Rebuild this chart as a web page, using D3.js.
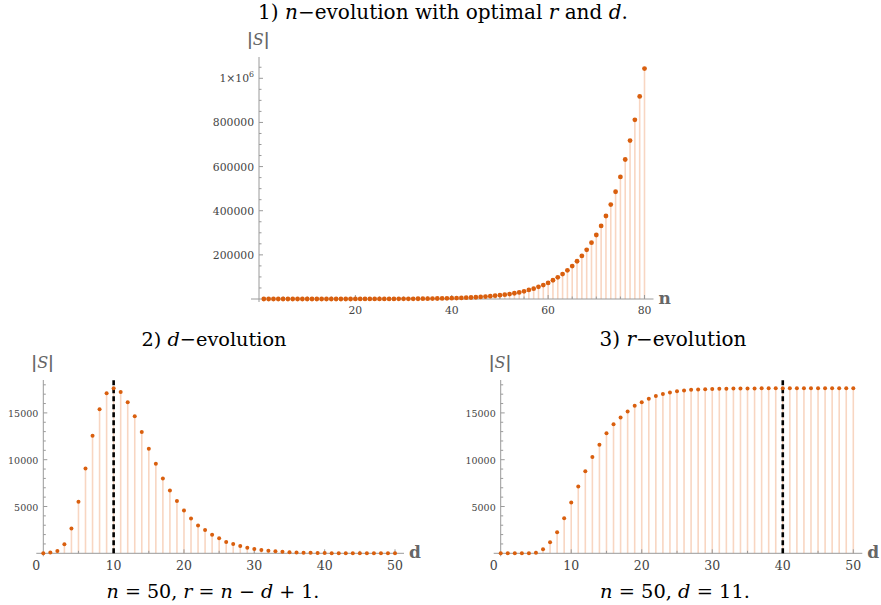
<!DOCTYPE html>
<html>
<head>
<meta charset="utf-8">
<script src="https://cdn.jsdelivr.net/npm/d3@7"></script>
<style>
body { margin: 0; background: #fff; }
text { font-family: "DejaVu Serif", serif; }
</style>
</head>
<body>
<svg id="chart" width="881" height="605"></svg>
<script>
// 1) |S| for n = 1..80 (optimal r and d)
var topSizes = [
  1, 2, 2, 3, 4, 5, 7, 9, 12, 15,
  19, 24, 30, 37, 46, 56, 68, 82, 100, 120,
  145, 175, 210, 250, 300, 355, 420, 500, 590, 700,
  820, 970, 1150, 1350, 1600, 1900, 2200, 2600, 3100, 3600,
  4300, 5000, 5900, 6900, 8000, 9400, 11000, 12800, 15000, 17500,
  19800, 22500, 26000, 30000, 35000, 41000, 47000, 55000, 63000, 73000,
  85000, 98000, 113000, 130000, 149000, 171000, 195000, 223000, 255000, 290000,
  331000, 376000, 428000, 486000, 553000, 632000, 718000, 812000, 918000, 1044000
];
// 2) |S| for d = 0..50, n = 50, r = n - d + 1
var dSizes = [
  0, 90, 250, 960, 2650, 5500, 9050, 12570, 15380, 17090,
  17640, 17240, 16130, 14650, 12950, 11180, 9560, 8000, 6700, 5580,
  4560, 3720, 2980, 2480, 1980, 1600, 1210, 1000, 790, 600,
  470, 360, 280, 210, 160, 120, 90, 65, 50, 36,
  26, 18, 12, 8, 5, 3, 2, 1, 1, 0, 0
];
// 3) |S| for r = 0..50, n = 50, d = 11
var rSizes = [
  0, 0, 0, 0, 0, 70, 430, 1180, 2260, 3740,
  5430, 7140, 8760, 10300, 11610, 12820, 13780, 14520, 15150, 15760,
  16150, 16500, 16810, 17020, 17180, 17320, 17400, 17470, 17510, 17540,
  17560, 17580, 17590, 17600, 17610, 17615, 17620, 17625, 17628, 17630,
  17630, 17630, 17630, 17630, 17630, 17630, 17630, 17630, 17630, 17630, 17630
];
var topTicks = [20, 40, 60, 80];
var topYTicks = [200000, 400000, 600000, 800000, 1000000];
var bottomXTicks = [10, 20, 30, 40, 50];
var bottomYTicks = [5000, 10000, 15000];
var dOptimal = 10;
var rOptimal = 40;

var dotColor = "#d95f0e";
var stemColor = "#f8d6c2";
var axisColor = "#9a9a9a";
var labelColor = "#444";

var svg = d3.select("#chart");

function drawPanel(p) {
  var g = svg.append("g");
  var x = d3.scaleLinear().domain(p.xDomain).range(p.xRange);
  var y = d3.scaleLinear().domain(p.yDomain).range(p.yRange);
  var x0 = x(0), y0 = y(0);

  // stems
  g.selectAll("line.stem")
    .data(p.values)
    .enter().append("line")
    .attr("class", "stem")
    .attr("x1", function(d, i){ return x(i + p.first); })
    .attr("x2", function(d, i){ return x(i + p.first); })
    .attr("y1", y0)
    .attr("y2", function(d){ return y(d); })
    .style("stroke", stemColor)
    .style("stroke-width", 1.6);

  // axes
  g.append("line")
    .attr("x1", x0 - p.xOver).attr("x2", p.xRange[1] + 9)
    .attr("y1", y0).attr("y2", y0)
    .style("stroke", axisColor).style("stroke-width", 1);
  g.append("line")
    .attr("x1", x0).attr("x2", x0)
    .attr("y1", y0 + 3).attr("y2", p.yTop)
    .style("stroke", axisColor).style("stroke-width", 1);

  // minor ticks
  var xs = d3.range(p.xMinor, p.xDomain[1] + 0.001, p.xMinor);
  g.selectAll("line.xt").data(xs).enter().append("line")
    .attr("x1", function(d){ return x(d); }).attr("x2", function(d){ return x(d); })
    .attr("y1", y0).attr("y2", function(d){ return p.xTicks.indexOf(d) >= 0 ? y0 - 4 : y0 - 2.5; })
    .style("stroke", axisColor);
  var ys = d3.range(p.yMinor, y.invert(p.yTop), p.yMinor);
  g.selectAll("line.yt").data(ys).enter().append("line")
    .attr("y1", function(d){ return y(d); }).attr("y2", function(d){ return y(d); })
    .attr("x1", x0).attr("x2", function(d){ return p.yTicks.indexOf(Math.round(d)) >= 0 ? x0 + 4 : x0 + 2.5; })
    .style("stroke", axisColor);

  // tick labels
  g.selectAll("text.xl").data(p.xTicks).enter().append("text")
    .attr("x", function(d){ return x(d); })
    .attr("y", y0 + 4 + p.xTickSize)
    .attr("text-anchor", "middle")
    .style("font-size", p.xTickSize + "px")
    .style("fill", labelColor)
    .text(function(d){ return d; });
  if (p.zeroLabel) {
    g.append("text")
      .attr("x", x0 - 7).attr("y", y0 + 4 + p.xTickSize)
      .attr("text-anchor", "middle")
      .style("font-size", p.xTickSize + "px")
      .style("fill", labelColor)
      .text("0");
  }
  var yl = g.selectAll("text.yl").data(p.yTicks).enter().append("text")
    .attr("x", x0 - 5)
    .attr("y", function(d){ return y(d) + 4; })
    .attr("text-anchor", "end")
    .style("font-size", p.yTickSize + "px")
    .style("fill", labelColor);
  yl.each(function(d){
    var t = d3.select(this);
    if (d >= 1000000) {
      t.append("tspan").text("1\u00d710");
      t.append("tspan").attr("dy", -5).style("font-size", (p.yTickSize - 3) + "px").text("6");
    } else {
      t.text(d);
    }
  });

  // axis names
  var sl = g.append("text")
    .attr("x", x0 - 12).attr("y", p.yTop - 12)
    .style("font-size", "16px").style("fill", "#666").style("font-weight", "bold");
  sl.append("tspan").text("|");
  sl.append("tspan").style("font-style", "italic").style("font-weight", "normal").text("S");
  sl.append("tspan").text("|");
  g.append("text")
    .attr("x", p.xRange[1] + 14).attr("y", y0 + 5)
    .style("font-size", "17px").style("fill", "#666").style("font-weight", "bold")
    .text(p.xName);

  // optimum marker
  if (p.mark != null) {
    g.append("line")
      .attr("x1", x(p.mark)).attr("x2", x(p.mark))
      .attr("y1", y0).attr("y2", p.yTop)
      .style("stroke", "#000").style("stroke-width", 2.6)
      .style("stroke-dasharray", "5,3");
  }

  // points
  g.selectAll("circle")
    .data(p.values)
    .enter().append("circle")
    .attr("cx", function(d, i){ return x(i + p.first); })
    .attr("cy", function(d){ return y(d); })
    .attr("r", p.r)
    .style("fill", dotColor);
}

drawPanel({
  values: topSizes, first: 1,
  xDomain: [0, 80], xRange: [259, 644.5],
  yDomain: [0, 1000000], yRange: [299, 78.3], yTop: 57,
  xTicks: topTicks, yTicks: topYTicks, xMinor: 5, yMinor: 50000,
  xOver: 8, xTickSize: 10.8, yTickSize: 10.8, zeroLabel: false, xName: "n", r: 2.4, mark: null
});
drawPanel({
  values: dSizes, first: 0,
  xDomain: [0, 50], xRange: [43.3, 395],
  yDomain: [0, 5000], yRange: [553.3, 506.5], yTop: 380,
  xTicks: bottomXTicks, yTicks: bottomYTicks, xMinor: 5, yMinor: 1000,
  xOver: 7, xTickSize: 12.5, yTickSize: 9.5, zeroLabel: true, xName: "d", r: 2, mark: dOptimal
});
drawPanel({
  values: rSizes, first: 0,
  xDomain: [0, 50], xRange: [500.7, 853.3],
  yDomain: [0, 5000], yRange: [553.3, 506.5], yTop: 380,
  xTicks: bottomXTicks, yTicks: bottomYTicks, xMinor: 5, yMinor: 1000,
  xOver: 7, xTickSize: 12.5, yTickSize: 9.5, zeroLabel: true, xName: "d", r: 2, mark: rOptimal
});

// titles and captions, sized to the widths in the original
function richText(xc, yb, parts, width) {
  var t = svg.append("text")
    .attr("x", xc).attr("y", yb)
    .attr("text-anchor", "middle")
    .style("font-size", "18px")
    .style("fill", "#000");
  parts.forEach(function(p){
    var s = t.append("tspan").text(p[0]);
    if (p[1]) s.style("font-style", "italic");
  });
  var w = t.node().getComputedTextLength();
  var fs = Math.min(22, Math.max(14, 18 * width / w));
  t.style("font-size", fs + "px");
}
richText(443, 19, [["1) "], ["n", 1], ["\u2212evolution with optimal "], ["r", 1], [" and "], ["d", 1], ["."]], 370);
richText(214, 346, [["2) "], ["d", 1], ["\u2212evolution"]], 145);
richText(673, 346, [["3) "], ["r", 1], ["\u2212evolution"]], 147);
richText(213, 598, [["n", 1], [" = 50, "], ["r", 1], [" = "], ["n", 1], [" \u2212 "], ["d", 1], [" + 1."]], 213);
richText(675, 598, [["n", 1], [" = 50, "], ["d", 1], [" = 11."]], 150);
</script>
</body>
</html>
